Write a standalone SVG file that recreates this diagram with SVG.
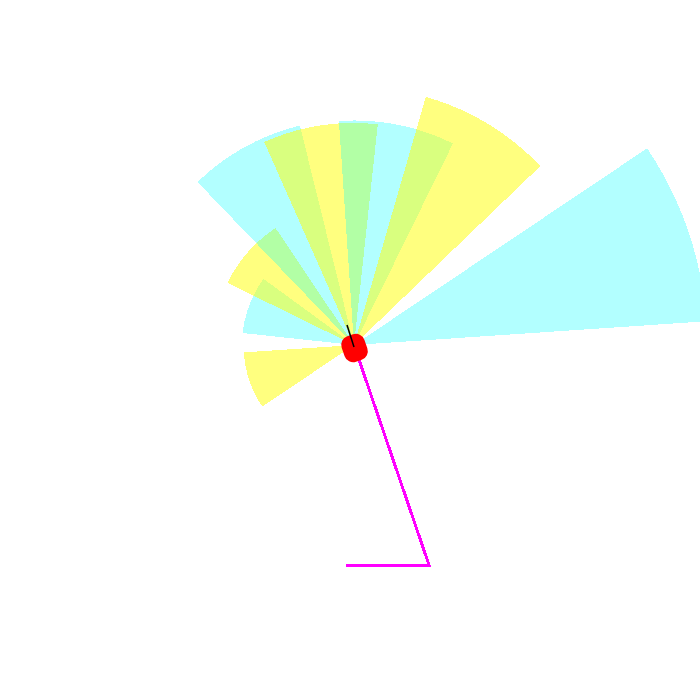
<svg xmlns="http://www.w3.org/2000/svg" width="700" height="700" viewBox="0 0 700 700">
  <style>
    .cy { fill: #00FFFF; fill-opacity: 0.3; stroke: none; shape-rendering: crispEdges; }
    .ye { fill: #FFFF00; fill-opacity: 0.5; stroke: none; shape-rendering: crispEdges; }
    .path { fill: none; stroke: #FF00FF; stroke-width: 3; shape-rendering: crispEdges; }
  </style>
  <rect x="0" y="0" width="700" height="700" fill="#FFFFFF"/>
  <g id="sectors">
    <path id="sH" class="ye" d="M354 345 L262.23 406.57 A110.5 110.5 0 0 1 243.75 352.42 Z"/>
    <path id="sG" class="cy" d="M354 345 L242.65 333.0 A112 112 0 0 1 263.58 278.91 Z"/>
    <path id="sF" class="ye" d="M354 345 L227.43 282.85 A141 141 0 0 1 275.44 227.92 Z"/>
    <path id="sA" class="cy" d="M354 345 L197.48 181.97 A226 226 0 0 1 299.90 125.57 Z"/>
    <path id="sB" class="ye" d="M354 345 L264.24 141.96 A222 222 0 0 1 377.78 124.28 Z"/>
    <path id="sC" class="cy" d="M354 345 L338.93 121.01 A224.5 224.5 0 0 1 452.95 143.48 Z"/>
    <path id="sD" class="ye" d="M354 345 L425.87 96.80 A258.4 258.4 0 0 1 540.40 166.04 Z"/>
    <path id="sE" class="cy" d="M354 345 L647.12 148.32 A353 353 0 0 1 706.20 321.30 Z"/>
  </g>
  <g id="connectors">
    <polyline class="path" points="355,348 429,565 346,565"/>
  </g>
  <g id="robot">
    <rect x="342.5" y="334.5" width="24" height="27" rx="9" ry="9" fill="#FF0000" transform="rotate(-19 354.5 348)"/>
    <line x1="347" y1="325" x2="354" y2="347" stroke="#000000" stroke-width="1.5"/>
  </g>
</svg>
